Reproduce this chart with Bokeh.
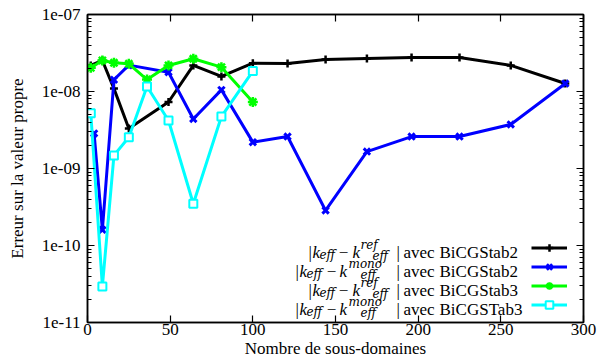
from bokeh.plotting import figure
from bokeh.models import (Range1d, LinearAxis, LogAxis, FixedTicker,
                          CustomJSTickFormatter, Legend, LegendItem, Label)
from bokeh.embed import file_html
from bokeh.resources import INLINE

# ---------------- data ----------------
x_ref2 = [2, 9, 16, 25, 49, 64, 81, 100, 121, 144, 169, 196, 225, 256, 289]
y_ref2 = [2.18e-8, 2.53e-8, 1.09e-8, 3.3e-9, 7.3e-9, 2.18e-8, 1.57e-8, 2.33e-8,
          2.31e-8, 2.6e-8, 2.68e-8, 2.77e-8, 2.77e-8, 2.18e-8, 1.27e-8]

x_mono2 = [4, 9, 16, 25, 49, 64, 81, 100, 121, 144, 169, 196, 225, 256, 289]
y_mono2 = [2.85e-9, 1.6e-10, 1.42e-8, 2.2e-8, 1.78e-8, 4.4e-9, 1.05e-8, 2.2e-9,
           2.6e-9, 2.85e-10, 1.66e-9, 2.6e-9, 2.6e-9, 3.73e-9, 1.27e-8]

x_ref3 = [2, 9, 16, 25, 36, 49, 64, 81, 100]
y_ref3 = [2.03e-8, 2.53e-8, 2.36e-8, 2.29e-8, 1.43e-8, 2.18e-8, 2.66e-8, 2.07e-8, 7.3e-9]

x_mono3 = [2, 9, 16, 25, 36, 49, 64, 81, 100]
y_mono3 = [5.2e-9, 2.94e-11, 1.48e-9, 2.55e-9, 1.16e-8, 4.2e-9, 3.48e-10, 4.73e-9, 1.84e-8]

x_ticks = [0, 50, 100, 150, 200, 250, 300]
y_ticks = [1e-11, 1e-10, 1e-9, 1e-8, 1e-7]
y_minor = [k * 10.0 ** e for e in range(-11, -7) for k in range(2, 10)]

legend_rows = [("ref", "BiCGStab2"), ("mono", "BiCGStab2"),
               ("ref", "BiCGStab3"), ("mono", "BiCGSTab3")]

x_label = "Nombre de sous-domaines"
y_label = "Erreur sur la valeur propre"

# ---------------- figure ----------------
FONT = "Liberation Serif"
FS = "17px"

p = figure(width=608, height=363, x_range=Range1d(0, 300),
           y_range=Range1d(1e-11, 1e-7), y_axis_type="log",
           output_backend="svg", toolbar_location=None,
           min_border_left=87, min_border_right=25,
           min_border_top=14, min_border_bottom=41)
p.xgrid.visible = False
p.ygrid.visible = False
p.outline_line_color = "black"
p.outline_line_width = 1.5
p.outline_line_alpha = 1.0
p.background_fill_color = "white"
p.border_fill_color = "white"


def style_axis(ax):
    ax.axis_line_color = "black"
    ax.axis_line_width = 1.5
    ax.major_tick_in = 7
    ax.major_tick_out = 0
    ax.minor_tick_in = 4
    ax.minor_tick_out = 0
    ax.major_tick_line_color = "black"
    ax.minor_tick_line_color = "black"
    ax.major_tick_line_width = 1.2
    ax.minor_tick_line_width = 1.0
    ax.major_label_text_font = FONT
    ax.major_label_text_color = "black"
    ax.major_label_text_font_size = FS
    ax.axis_label_text_color = "black"


xt = FixedTicker(ticks=x_ticks, minor_ticks=[])
yt = FixedTicker(ticks=y_ticks, minor_ticks=y_minor)
yfmt = CustomJSTickFormatter(code="""
var s = tick.toExponential(0);
return s.replace(/e([+-])(\\d)$/, function(m, a, b) { return "e" + a + "0" + b; });
""")
blank = CustomJSTickFormatter(code="return '';")

p.xaxis.ticker = xt
p.yaxis.ticker = yt
p.yaxis.formatter = yfmt
for ax in p.xaxis:
    style_axis(ax)
    ax.major_label_standoff = 1
    ax.axis_label = x_label
    ax.axis_label_text_font = FONT
    ax.axis_label_text_font_size = FS
    ax.axis_label_text_font_style = "normal"
    ax.axis_label_standoff = 1
for ax in p.yaxis:
    style_axis(ax)
    ax.major_label_standoff = 7
    ax.axis_label = y_label
    ax.axis_label_text_font = FONT
    ax.axis_label_text_font_size = FS
    ax.axis_label_text_font_style = "normal"
    ax.axis_label_standoff = 12

top = LinearAxis(ticker=FixedTicker(ticks=x_ticks, minor_ticks=[]), formatter=blank)
style_axis(top)
top.major_label_standoff = 0
p.add_layout(top, "above")
right = LogAxis(ticker=FixedTicker(ticks=y_ticks, minor_ticks=y_minor), formatter=blank)
style_axis(right)
right.major_label_standoff = 0
p.add_layout(right, "right")

# ---------------- series ----------------
series = [
    (x_ref2, y_ref2, "#000000", "cross", 8, 2.5, "#000000"),
    (x_mono2, y_mono2, "#0000ff", "x", 9, 3, "#0000ff"),
    (x_ref3, y_ref3, "#00ff00", "asterisk", 10, 2.5, "#00ff00"),
    (x_mono3, y_mono3, "#00ffff", "square", 8, 2, "white"),
]
items = []
for xs, ys, col, mk, sz, lw, fill in series:
    lr = p.line(xs, ys, line_color=col, line_width=3)
    sr = p.scatter(xs, ys, marker=mk, size=sz, line_color=col,
                   line_width=lw, fill_color=fill)
    items.append(LegendItem(label=" ", renderers=[lr, sr]))

legend = Legend(items=items, location=(444, 8), glyph_width=36,
                glyph_height=19, label_height=19, spacing=0, padding=0,
                margin=0, border_line_color=None, background_fill_alpha=0,
                label_text_font_size="8px", label_standoff=2, label_width=4)
p.add_layout(legend)

# ---------------- legend texts (math-like) ----------------
FRAME_L, FRAME_B = 87, 322        # frame corner on the page
B = 396 - FRAME_L                 # closing bar position
row_centers = [246, 265, 284, 303]

templates = {
    "ref": [("|", -88, "main"), ("k", -84, "it"), ("eff", -77, "sub"),
            ("\u2212", -53, "op"), ("k", -44, "it"), ("ref", -36, "sup"),
            ("eff", -24, "sub2")],
    "mono": [("|", -101, "main"), ("k", -97, "it"), ("eff", -90, "sub"),
             ("\u2212", -65, "op"), ("k", -57, "it"), ("mono", -48, "sup"),
             ("eff", -36, "sub2")],
}

for (kind, solver), yc in zip(legend_rows, row_centers):
    base = FRAME_B - (yc + 5.5)
    pieces = templates[kind] + [("|", 0, "main"), ("avec", 7, "main"),
                                (solver, 43, "main")]
    for txt, dx, st in pieces:
        kw = dict(x=B + dx, y=base, x_units="screen", y_units="screen",
                  text=txt, text_color="black", text_baseline="alphabetic",
                  text_align="left", text_font=FONT, text_font_size=FS)
        if st == "it":
            kw["text_font_style"] = "italic"
        elif st == "op":
            kw["text_align"] = "center"
        elif st in ("sub", "sub2", "sup"):
            kw["text_font"] = "DejaVu Serif"
            kw["text_font_style"] = "italic"
            kw["text_font_size"] = "12px"
            kw["y"] = base + {"sub": -3, "sub2": -4, "sup": 7}[st]
        p.add_layout(Label(**kw))

open("out.html", "w").write(file_html(p, INLINE))
